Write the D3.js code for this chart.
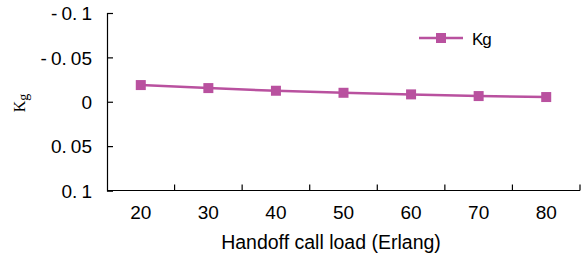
<!DOCTYPE html>
<html><head><meta charset="utf-8">
<script src="https://cdn.jsdelivr.net/npm/d3@7"></script>
<style>body{margin:0;background:#fff}svg{display:block}</style>
</head><body>
<svg id="c" width="585" height="257"></svg>
<script>
const categories = ["20","30","40","50","60","70","80"];
const kgValues = [-0.0188, -0.0154, -0.0124, -0.0101, -0.0083, -0.0064, -0.0053];
const yTicks = [-0.1, -0.05, 0, 0.05, 0.1];
const yTickLabels = ["- 0. 1", "- 0. 05", "0", "0. 05", "0. 1"];
const seriesName = "Kg";
const color = "#b9519f";

const svg = d3.select("#c");
const L = 107, R = 580, T = 13, B = 190.5;
const x = d3.scaleBand().domain(categories).range([L, R]);
const y = d3.scaleLinear().domain([-0.1, 0.1]).range([T, B]);
const font = "Liberation Sans, Arial, sans-serif";

// y axis
const ya = svg.append("g").attr("transform", `translate(${L},0)`)
  .call(d3.axisLeft(y).tickValues(yTicks).tickSizeInner(-6).tickSizeOuter(-6)
    .tickFormat((d,i)=>yTickLabels[i]).tickPadding(15));
ya.selectAll("text").attr("font-family", font).attr("font-size", 19)
  .attr("word-spacing", "-1.2").attr("fill", "#000").attr("dy", "0.36em");
ya.selectAll("line,path").attr("stroke", "#000").attr("stroke-width", 1.2);

// x axis with ticks at band boundaries
const xa = svg.append("g").attr("transform", `translate(0,${B})`);
xa.append("line").attr("x1", L).attr("x2", R).attr("stroke", "#000").attr("stroke-width", 1.2);
categories.forEach(c => {
  xa.append("line").attr("x1", x(c) + x.bandwidth()).attr("x2", x(c) + x.bandwidth())
    .attr("y1", 0).attr("y2", -6).attr("stroke", "#000").attr("stroke-width", 1.2);
  xa.append("text").attr("x", x(c) + x.bandwidth()/2).attr("y", 28)
    .attr("text-anchor", "middle").attr("font-family", font).attr("font-size", 19).text(c);
});

svg.append("text").attr("x", 331).attr("y", 249).attr("text-anchor", "middle")
  .attr("font-family", font).attr("font-size", 19.5).text("Handoff call load (Erlang)");

const yl = svg.append("text").attr("transform", "translate(25,103) rotate(-90)")
  .attr("text-anchor", "middle").attr("font-family", "Liberation Serif, Times New Roman, serif")
  .attr("font-size", 16);
yl.append("tspan").text("K");
yl.append("tspan").attr("dy", 3).attr("font-size", 14).text("g");

// series
const line = d3.line().x((d,i)=>x(categories[i]) + x.bandwidth()/2).y(d=>y(d));
svg.append("path").datum(kgValues).attr("d", line).attr("fill", "none")
  .attr("stroke", color).attr("stroke-width", 2.5);
svg.selectAll("rect.m").data(kgValues).enter().append("rect").attr("class","m")
  .attr("x", (d,i)=>x(categories[i]) + x.bandwidth()/2 - 5).attr("y", d=>y(d)-5)
  .attr("width", 10).attr("height", 10).attr("fill", color);

// legend
const lg = svg.append("g");
lg.append("line").attr("x1", 419).attr("x2", 463).attr("y1", 38).attr("y2", 38)
  .attr("stroke", color).attr("stroke-width", 2.5);
lg.append("rect").attr("x", 436).attr("y", 33).attr("width", 10).attr("height", 10).attr("fill", color);
lg.append("text").attr("x", 472).attr("y", 45).attr("font-family", font).attr("font-size", 17)
  .attr("letter-spacing", "-1").text(seriesName);
</script>
</body></html>
